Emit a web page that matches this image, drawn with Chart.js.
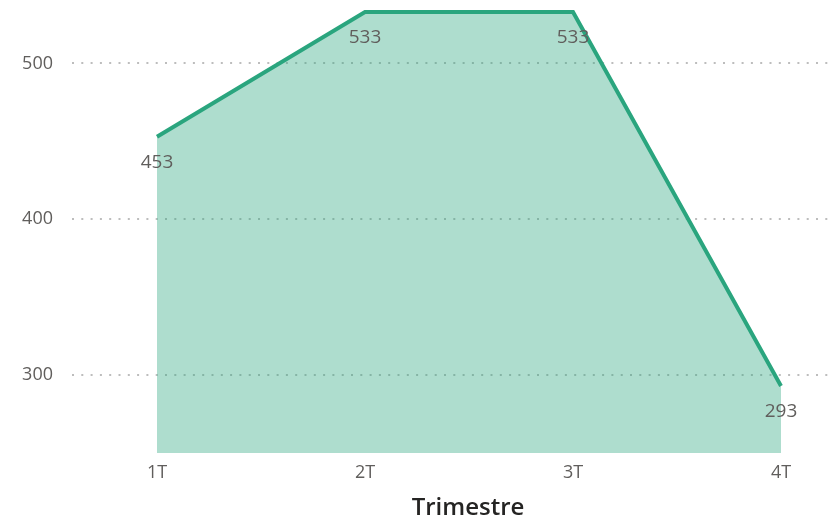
<!DOCTYPE html>
<html>
<head>
<meta charset="utf-8">
<script src="https://cdn.jsdelivr.net/npm/chart.js@4/dist/chart.umd.min.js"></script>
<style>
  html, body { margin:0; padding:0; background:#fff; overflow:hidden; }
  #wrap { width:832px; height:520px; overflow:hidden; position:relative; }
  #wrap canvas { position:absolute; left:0; top:0; }
</style>
</head>
<body>
<div id="wrap"><canvas id="chart" width="864" height="520"></canvas></div>
<script>
// Données
const quarters = ['1T', '2T', '3T', '4T'];
const values = [453, 533, 533, 293];
const yTicks = [300, 400, 500];

const LINE = '#2aa57e';
const FILL = 'rgba(42,165,126,0.38)';
const TXT = '#605e5c';

// étiquettes de données sous chaque point
const valueLabels = {
  id: 'valueLabels',
  afterDatasetsDraw(chart){
    const c = chart.ctx;
    const meta = chart.getDatasetMeta(0);
    c.save();
    c.font = '19px "Open Sans"';
    c.fillStyle = TXT;
    c.textAlign = 'center';
    c.textBaseline = 'middle';
    meta.data.forEach((pt, i) => {
      c.fillText(String(values[i]), pt.x, pt.y + 26);
    });
    c.restore();
  }
};

const ctx = document.getElementById('chart').getContext('2d');
new Chart(ctx, {
  type: 'line',
  data: {
    datasets: [{
      data: quarters.map((q, i) => ({ x: i, y: values[i] })),
      borderColor: LINE,
      borderWidth: 4,
      backgroundColor: FILL,
      fill: 'start',
      pointRadius: 0,
      tension: 0,
      clip: 4
    }]
  },
  options: {
    responsive: false,
    animation: false,
    layout: { padding: { top: 12, left: 0, right: 0, bottom: 0 } },
    plugins: { legend: { display:false }, tooltip: { enabled:false } },
    scales: {
      x: {
        type: 'linear',
        min: -85/208,
        max: 3 + 83/208,
        afterBuildTicks: s => { s.ticks = quarters.map((q, i) => ({ value: i })); },
        ticks: {
          callback: v => quarters[v],
          color: TXT,
          font: { family: 'Open Sans', size: 18 },
          padding: 9,
          maxRotation: 0
        },
        grid: { display:false, drawTicks:false },
        border: { display:false },
        title: {
          display: true,
          text: 'Trimestre',
          color: '#252423',
          font: { family: 'Open Sans', size: 24, weight: '600', lineHeight: 1 },
          padding: { top: 4, bottom: 0 }
        },
        afterFit: s => { s.height = 67; s.paddingLeft = 0; s.paddingRight = 0; }
      },
      y: {
        min: 250,
        max: 533,
        afterBuildTicks: s => { s.ticks = yTicks.map(v => ({ value: v })); },
        ticks: {
          color: TXT,
          font: { family: 'Open Sans', size: 18 },
          padding: 19
        },
        grid: {
          color: '#bdbdbd',
          lineWidth: 2,
          drawTicks: false
        },
        border: { display:false, dash: [2, 7.3] },
        afterFit: s => { s.width = 72; s.paddingTop = 0; s.paddingBottom = 0; }
      }
    }
  },
  plugins: [valueLabels]
});
</script>
</body>
</html>
